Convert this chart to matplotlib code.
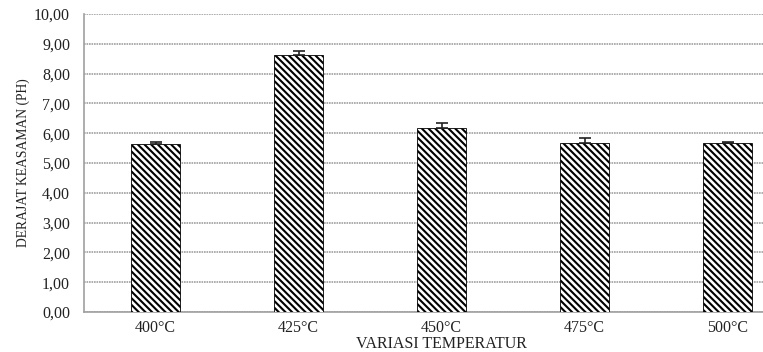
import numpy as np
import matplotlib.pyplot as plt
from matplotlib.ticker import FuncFormatter

# data
categories = ['400°C', '425°C', '450°C', '475°C', '500°C']
ph_values = [5.65, 8.62, 6.17, 5.67, 5.68]
ph_err = [0.06, 0.13, 0.17, 0.17, 0.02]

plt.rcParams['font.family'] = ['Liberation Serif', 'DejaVu Serif']
plt.rcParams['hatch.linewidth'] = 1.5

fig = plt.figure(figsize=(7.63, 3.52), dpi=100)
ax = fig.add_axes([84 / 763, 40 / 352, 715 / 763, 298 / 352])

x = np.arange(len(categories))
ax.bar(x, ph_values, width=0.34, color='white', edgecolor='black',
       hatch='\\' * 5, linewidth=0.6, zorder=3)
ax.errorbar(x, ph_values, yerr=[np.zeros(len(ph_err)), ph_err], fmt='none',
            ecolor='#222222', elinewidth=1.2, capsize=4, capthick=1.2, zorder=4)

ax.set_xlim(-0.5, len(categories) - 0.5)
ax.set_ylim(0, 10)
ax.set_yticks(np.arange(0, 10.01, 1))
ax.yaxis.set_major_formatter(FuncFormatter(lambda v, p: f'{v:.2f}'.replace('.', ',')))
ax.set_xticks(x)
ax.set_xticklabels(categories)
ax.tick_params(axis='both', length=0, labelsize=11.5, colors='#222222')
ax.tick_params(axis='y', pad=10)
ax.tick_params(axis='x', pad=6)

ax.grid(axis='y', color='#a0a0a0', lw=1.2, ls=(0, (1, 0.5)), zorder=0)
for side in ['top', 'right']:
    ax.spines[side].set_visible(False)
ax.spines['left'].set_color('#a0a0a0')
ax.spines['bottom'].set_color('#a0a0a0')
ax.spines['left'].set_linewidth(1.2)
ax.spines['bottom'].set_linewidth(1.2)

ax.set_ylabel('DERAJAT KEASAMAN (PH)', fontsize=9.8, color='#222222', labelpad=3)
fig.text(441 / 763, 1 - 344 / 352, 'VARIASI TEMPERATUR', fontsize=11.5,
         color='#222222', ha='center', va='center')

plt.savefig('out.png', dpi=100)
